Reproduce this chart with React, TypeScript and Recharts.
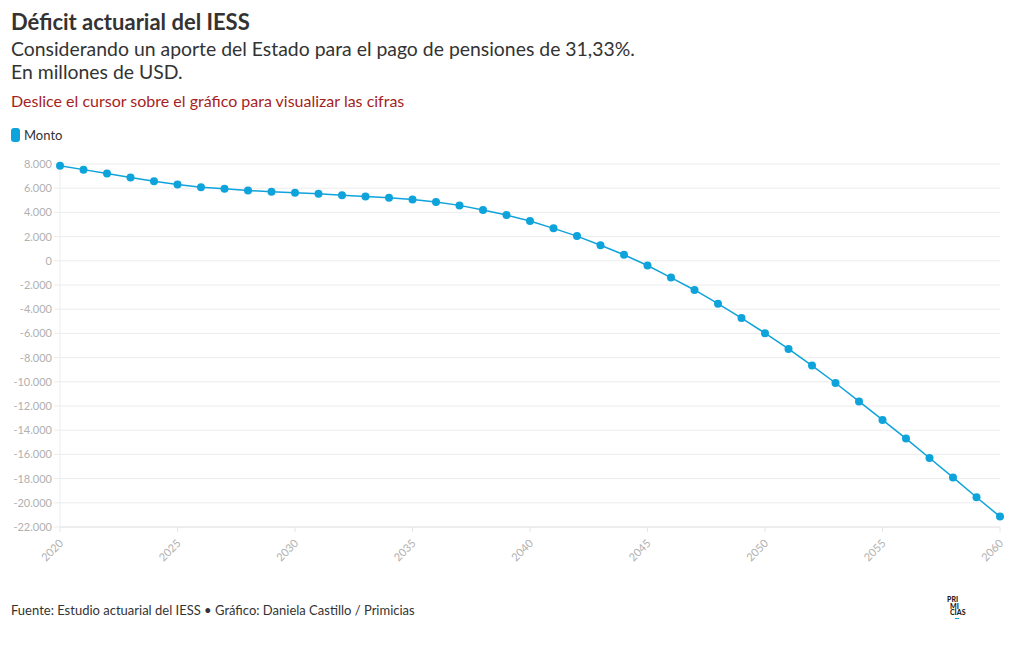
import { LineChart, Line, XAxis, YAxis, CartesianGrid } from "recharts";

const years = [
  2020, 2021, 2022, 2023, 2024, 2025, 2026, 2027, 2028, 2029,
  2030, 2031, 2032, 2033, 2034, 2035, 2036, 2037, 2038, 2039,
  2040, 2041, 2042, 2043, 2044, 2045, 2046, 2047, 2048, 2049,
  2050, 2051, 2052, 2053, 2054, 2055, 2056, 2057, 2058, 2059, 2060,
];

// Monto (millones de USD)
const monto = [
  7860, 7535, 7210, 6880, 6570, 6300, 6080, 5950, 5810, 5700,
  5620, 5540, 5420, 5320, 5210, 5070, 4850, 4580, 4190, 3780,
  3290, 2680, 2040, 1290, 500, -390, -1390, -2410, -3540, -4730,
  -5980, -7280, -8660, -10100, -11620, -13150, -14690, -16300, -17900, -19540, -21140,
];

const xTicks = [2020, 2025, 2030, 2035, 2040, 2045, 2050, 2055, 2060];
const yTicks = [
  8000, 6000, 4000, 2000, 0, -2000, -4000, -6000, -8000, -10000,
  -12000, -14000, -16000, -18000, -20000, -22000,
];

const data = years.map((year, i) => ({ year, monto: monto[i] }));

const FONT = "Lato, 'Noto Sans', sans-serif";
const BLUE = "#0fa3dc";

const fmt = (v: number) => {
  const s = Math.abs(v).toString().replace(/\B(?=(\d{3})+(?!\d))/g, ".");
  return (v < 0 ? "-" : "") + s;
};

function YearTick(props: any) {
  const { x, y, payload } = props;
  return (
    <text
      x={x + 4}
      y={y + 10}
      textAnchor="end"
      fontSize={11}
      fill="#b0b0b0"
      fontFamily={FONT}
      transform={`rotate(-45 ${x + 4} ${y + 10})`}
    >
      {payload.value}
    </text>
  );
}

export default function App() {
  return (
    <div
      style={{
        position: "absolute",
        left: 0,
        top: 0,
        width: 1020,
        height: 650,
        background: "#fff",
        fontFamily: FONT,
        color: "#333",
      }}
    >
      <div style={{ position: "absolute", left: 11, top: 9, fontSize: 22, lineHeight: "26px", fontWeight: 700, color: "#333" }}>
        Déficit actuarial del IESS
      </div>
      <div style={{ position: "absolute", left: 11, top: 37, fontSize: 19.4, lineHeight: "23px", color: "#333" }}>
        Considerando un aporte del Estado para el pago de pensiones de 31,33%.
        <br />
        En millones de USD.
      </div>
      <div style={{ position: "absolute", left: 11, top: 91, fontSize: 16, lineHeight: "20px", color: "#a61e22" }}>
        Deslice el cursor sobre el gráfico para visualizar las cifras
      </div>
      <div style={{ position: "absolute", left: 11, top: 127, display: "flex", alignItems: "center", fontSize: 13, color: "#333" }}>
        <span style={{ display: "inline-block", width: 9, height: 14, borderRadius: 3, background: BLUE, marginRight: 4 }} />
        Monto
      </div>

      <div style={{ position: "absolute", left: 0, top: 0 }}>
        <LineChart width={1020} height={650} data={data} margin={{ top: 164, right: 20, left: 10, bottom: 83 }}>
          <CartesianGrid vertical={false} stroke="#ececec" />
          <XAxis
            dataKey="year"
            type="number"
            domain={[2020, 2060]}
            ticks={xTicks}
            interval={0}
            height={40}
            tick={<YearTick />}
            axisLine={{ stroke: "#e6e6e6" }}
            tickLine={{ stroke: "#e6e6e6" }}
            tickSize={5}
          />
          <YAxis
            domain={[-22000, 8000]}
            ticks={yTicks}
            interval={0}
            width={50}
            tickFormatter={fmt}
            tick={{ fontSize: 11, fill: "#b0b0b0", fontFamily: FONT }}
            axisLine={{ stroke: "#ececec" }}
            tickLine={{ stroke: "#ececec" }}
            tickSize={6}
          />
          <Line
            type="linear"
            dataKey="monto"
            stroke={BLUE}
            strokeWidth={1.5}
            dot={{ r: 4, fill: BLUE, stroke: BLUE, strokeWidth: 0 }}
            isAnimationActive={false}
          />
        </LineChart>
      </div>

      <div style={{ position: "absolute", left: 11, top: 601, fontSize: 13, lineHeight: "18px", color: "#333" }}>
        Fuente: Estudio actuarial del IESS • Gráfico: Daniela Castillo / Primicias
      </div>
      <div style={{ position: "absolute", left: 947, top: 596, fontSize: 7, lineHeight: "6.5px", fontWeight: 900, color: "#222", letterSpacing: 0 }}>
        PRI
        <br />
        <span style={{ marginLeft: 3 }}>MI</span>
        <br />
        <span style={{ marginLeft: 3 }}>CIAS</span>
      </div>
      <div style={{ position: "absolute", left: 955, top: 618, width: 4, height: 1, background: BLUE }} />
    </div>
  );
}
